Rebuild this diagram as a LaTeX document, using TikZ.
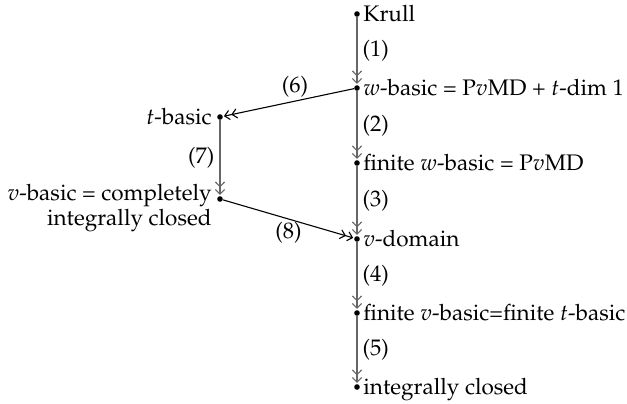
\documentclass[tikz,border=0pt]{standalone}
\usepackage[T1]{fontenc}
\usepackage{mathpazo}
\usetikzlibrary{arrows.meta}
\tikzset{
  pt/.style={circle,fill=black,inner sep=0pt,minimum size=2.8pt},
  lbl/.style={inner sep=0pt,font=\fontsize{11.25}{9.5}\selectfont},
  dbl/.style={-{Straight Barb[length=2.4pt,width=4.6pt,sep=0.7pt]Straight Barb[length=2.4pt,width=4.6pt]},line width=0.55pt,shorten >=0.4pt},
  vert/.style={dbl,draw=black!60},
  diag/.style={dbl,draw=black}
}
\begin{document}
\begin{tikzpicture}[x=0.5pt,y=-0.5pt]
\useasboundingbox (0,0) rectangle (627,403);
% main chain
\node[pt] (k) at (357,14) {};
\node[pt] (w) at (357,88) {};
\node[pt] (fw) at (357,163) {};
\node[pt] (vd) at (357,239) {};
\node[pt] (fv) at (357,313) {};
\node[pt] (ic) at (357,387) {};
% side branch
\node[pt] (t) at (220,117) {};
\node[pt] (vb) at (220,199) {};
% statements
\node[lbl,anchor=base west] (kt) at (363,21) {Krull};
\node[lbl,anchor=base west] (wt) at (363,95) {$w$-basic = P$v$MD + $t$-dim 1};
\node[lbl,anchor=base west] (fwt) at (363,170) {finite $w$-basic = P$v$MD};
\node[lbl,anchor=base west] (vdt) at (363,246) {$v$-domain};
\node[lbl,anchor=base west] (fvt) at (363,320) {finite $v$-basic=finite $t$-basic};
\node[lbl,anchor=base west] (ict) at (363,394) {integrally closed};
\node[lbl,anchor=base east] (tt) at (212,124) {$t$-basic};
\node[lbl,anchor=base east,align=right] (vbt) at (212,225) {$v$-basic = completely\\integrally closed};
% implications
\draw[vert] (k) -- node[lbl,right=2.5pt] {(1)} (w);
\draw[vert] (w) -- node[lbl,right=2.5pt] {(2)} (fw);
\draw[vert] (fw) -- node[lbl,right=2.5pt] {(3)} (vd);
\draw[vert] (vd) -- node[lbl,right=2.5pt] {(4)} (fv);
\draw[vert] (fv) -- node[lbl,right=2.5pt] {(5)} (ic);
\draw[vert] (t) -- node[lbl,left=2.5pt] {(7)} (vb);
\draw[diag] (w) -- node[lbl,above=1.5pt,pos=0.45] {(6)} (t);
\draw[diag] (vb) -- node[lbl,below=1.5pt,pos=0.5] {(8)} (vd);
\end{tikzpicture}
\end{document}
